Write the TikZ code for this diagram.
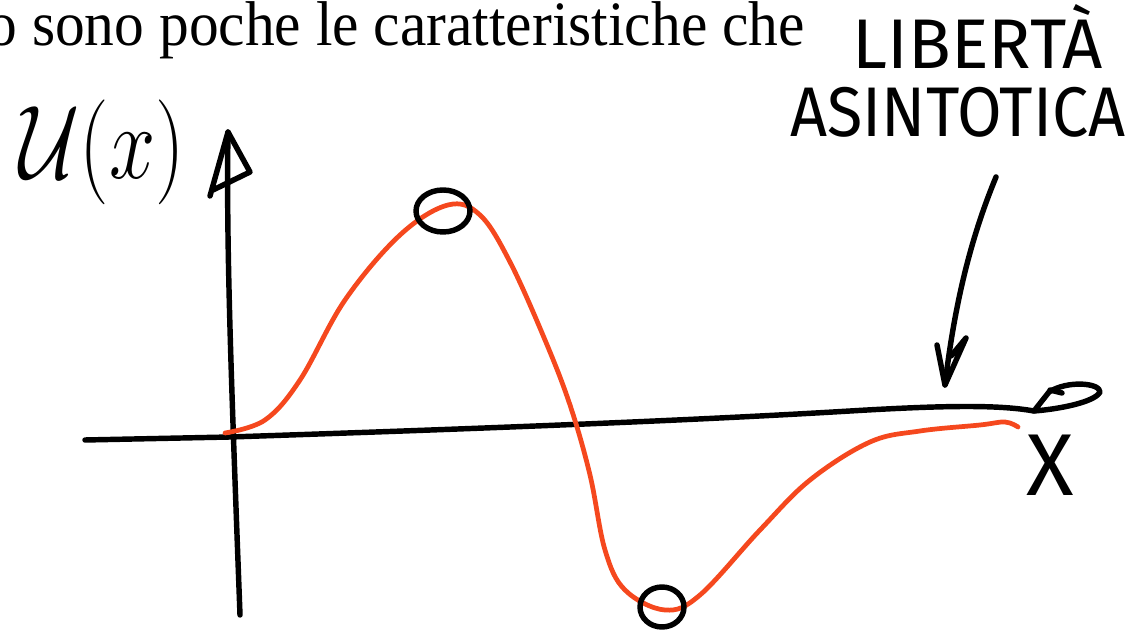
\documentclass[tikz,border=0pt]{standalone}
\usepackage{fontspec}
\setmainfont{Liberation Serif}
\newfontfamily\handfont{Fira Sans}
\usetikzlibrary{positioning}
\definecolor{sketchred}{RGB}{245,72,30}

\begin{document}
\begin{tikzpicture}[x=0.02cm,y=-0.02cm,line cap=round,line join=round]
				\useasboundingbox (0,0) rectangle (1126,634);
				\tikzset{ink/.style={line width=3.1pt,black},hand/.style={inner sep=0pt}}
				\node[anchor=base east,inner sep=0pt,font=\fontsize{36}{40}\selectfont,xscale=0.94] (intro) at (805,46) {o sono poche le caratteristiche che};
				\node[hand,font=\handfont\fontsize{40}{44}\selectfont] (liberta) at (978,36) {LIBERTÀ};
				\node[hand,font=\handfont\fontsize{40}{44}\selectfont,xscale=0.92] (asint) at (958,112) {ASINTOTICA};
				\node[inner sep=0pt,font=\Huge,xscale=1.9,yscale=2.4] (ulabel) at (102,152) {$\mathcal{U}(x)$};
				\node[hand,font=\handfont\fontsize{50}{52}\selectfont] (xlabel) at (1050,465) {X};
				% axes
				\coordinate (ybot) at (240,615);
				\coordinate (ytop) at (228,132);
				\coordinate (xleft) at (85,440);
				\coordinate (xright) at (1034,411);
				\draw[ink] (ybot) .. controls (232,400) and (226,250) .. (ytop);
				\draw[ink] (210,196)--(ytop)--(250,172)--(213,190);
				\draw[ink] (xleft)--(230,437) .. controls (500,428) and (700,420) .. (850,411) .. controls (950,405) and (1000,405) .. (xright);
				\draw[ink] (xright)--(1049,392) .. controls (1068,380) and (1100,383) .. (1100,392) .. controls (1095,402) and (1060,409) .. (xright);
				\draw[ink] (1050,390)--(1062,393);
				% potential
				\draw[sketchred,line width=2.7pt] plot[smooth,tension=0.6] coordinates {(225,433) (265,420) (300,380) (345,300) (400,235) (448,205) (480,215) (510,262) (545,340) (570,405) (590,475) (605,550) (625,590) (665,610) (700,595) (760,530) (810,480) (870,442) (920,431) (980,425) (1005,422) (1018,427)};
				\draw[ink] (443,211) ellipse [x radius=27,y radius=21];
				\draw[ink] (662,607) ellipse [x radius=22,y radius=20];
				% note arrow
				\coordinate (notestart) at (996,177);
				\coordinate (notetip) at (945,385);
				\draw[ink] (notestart) .. controls (972,235) and (955,300) .. (notetip);
				\draw[ink] (937,345)--(notetip)--(966,338)--(951,356);
			\end{tikzpicture}
\end{document}
